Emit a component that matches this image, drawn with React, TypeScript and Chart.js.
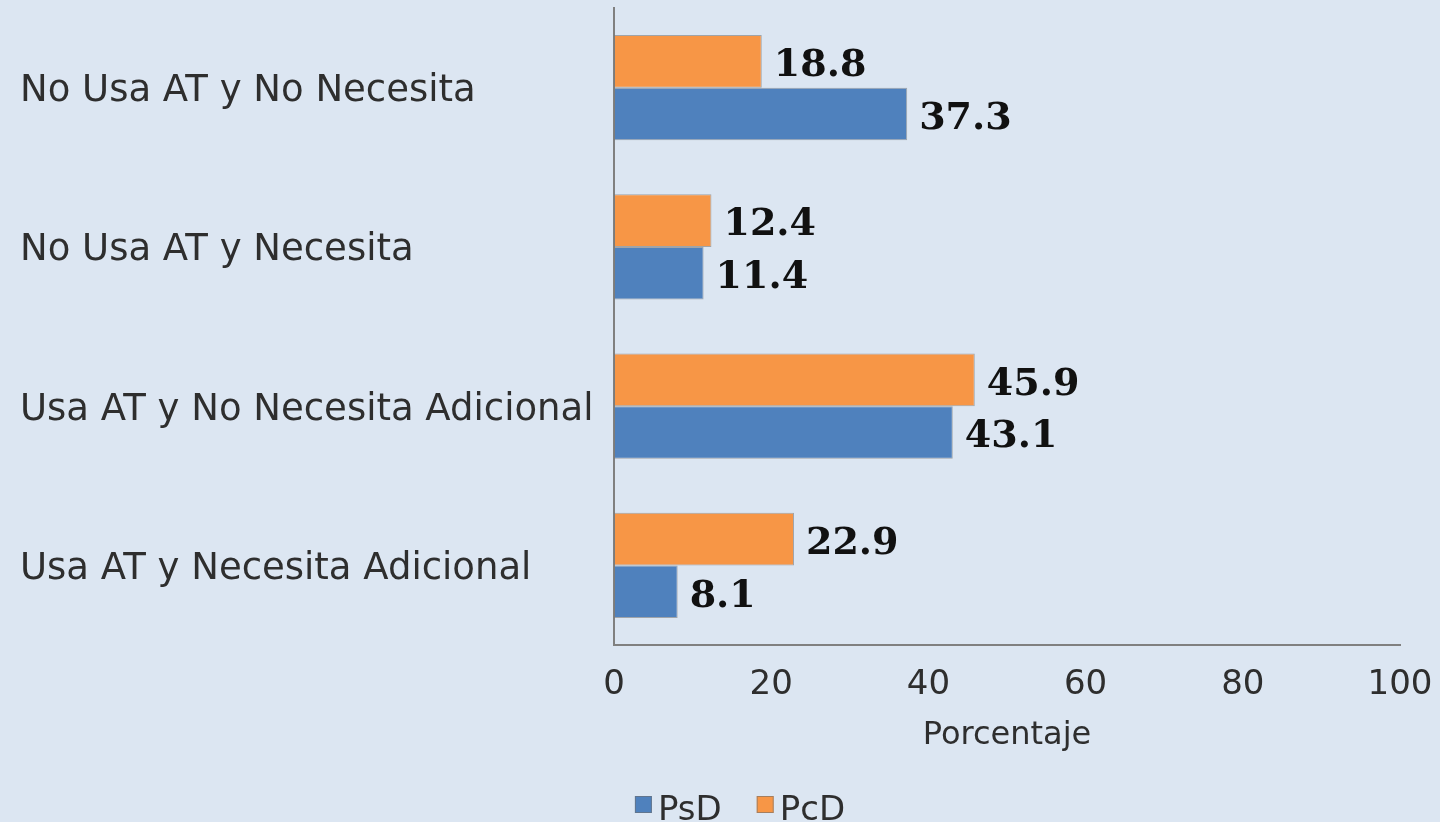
import React, { useEffect, useRef } from "react";
import { Chart, registerables } from "chart.js";

Chart.register(...registerables);

const categories = [
  "No Usa AT y No Necesita",
  "No Usa AT y Necesita",
  "Usa AT y No Necesita Adicional",
  "Usa AT y Necesita Adicional",
];
const psdValues = [37.3, 11.4, 43.1, 8.1];
const pcdValues = [18.8, 12.4, 45.9, 22.9];
const xTicks = [0, 20, 40, 60, 80, 100];
const seriesNames = ["PsD", "PcD"];

const BG = "#dce6f2";
const BLUE = "#4f81bd";
const ORANGE = "#f79646";
const TEXT = "#2e2e2e";

const dataLabelPlugin = {
  id: "dataLabels",
  afterDatasetsDraw(chart: any) {
    const ctx = chart.ctx;
    ctx.save();
    ctx.font = 'bold 38px "DejaVu Serif"';
    ctx.fillStyle = "#111111";
    ctx.textAlign = "left";
    ctx.textBaseline = "middle";
    chart.data.datasets.forEach((ds: any, i: number) => {
      const meta = chart.getDatasetMeta(i);
      meta.data.forEach((el: any, j: number) => {
        const v = ds.data[j];
        ctx.fillText(v.toFixed(1), el.x + 12, el.y + 5);
      });
    });
    ctx.restore();
  },
};

const legendPlugin = {
  id: "customLegend",
  afterDraw(chart: any) {
    const ctx = chart.ctx;
    ctx.save();
    ctx.font = '34px "DejaVu Sans"';
    const items = [...chart.data.datasets].reverse();
    const box = 17;
    const gap = 6;
    const itemGap = 35;
    const widths = items.map((d: any) => box + gap + ctx.measureText(d.label).width);
    const total = widths.reduce((a: number, b: number) => a + b, 0) + itemGap * (items.length - 1);
    let x = chart.width / 2 + 20 - total / 2;
    const baseY = 820;
    items.forEach((d: any, i: number) => {
      ctx.fillStyle = d.backgroundColor;
      ctx.fillRect(x, 796, box, box);
      ctx.strokeStyle = "rgba(110,110,110,0.6)";
      ctx.lineWidth = 1;
      ctx.strokeRect(x + 0.5, 796.5, box - 1, box - 1);
      ctx.fillStyle = TEXT;
      ctx.textBaseline = "alphabetic";
      ctx.textAlign = "left";
      ctx.fillText(d.label, x + box + gap, baseY);
      x += widths[i] + itemGap;
    });
    ctx.restore();
  },
};

export default function App() {
  const ref = useRef<HTMLCanvasElement>(null);

  useEffect(() => {
    document.body.style.margin = "0";
    document.body.style.background = BG;
    const chart = new Chart(ref.current as HTMLCanvasElement, {
      type: "bar",
      data: {
        labels: categories,
        datasets: [
          {
            label: seriesNames[1],
            data: pcdValues,
            backgroundColor: ORANGE,
            borderColor: "rgba(120,120,120,0.6)",
            borderWidth: 1,
            borderSkipped: false,
          },
          {
            label: seriesNames[0],
            data: psdValues,
            backgroundColor: BLUE,
            borderColor: "rgba(120,120,120,0.6)",
            borderWidth: 1,
            borderSkipped: false,
          },
        ],
      },
      options: {
        indexAxis: "y",
        animation: false,
        responsive: false,
        layout: { padding: { left: 20, right: 40, top: 8, bottom: 60 } },
        datasets: { bar: { categoryPercentage: 0.66, barPercentage: 1 } },
        plugins: {
          legend: { display: false },
          tooltip: { enabled: false },
        },
        scales: {
          x: {
            min: 0,
            max: 100,
            afterBuildTicks: (scale: any) => {
              scale.ticks = xTicks.map((v) => ({ value: v }));
            },
            afterFit: (scale: any) => {
              scale.height = 117;
              scale.paddingRight = 0;
              scale.paddingLeft = 0;
            },
            grid: { display: false, drawTicks: true, tickLength: 8 },
            border: { display: true, color: "#808080", width: 2 },
            ticks: {
              font: { family: "DejaVu Sans", size: 34 },
              color: TEXT,
              padding: 12,
              maxRotation: 0,
            },
            title: {
              display: true,
              text: "Porcentaje",
              font: { family: "DejaVu Sans", size: 32 },
              color: TEXT,
              padding: { top: 0, bottom: 7 },
            },
          },
          y: {
            afterFit: (scale: any) => {
              scale.width = 594;
              scale.paddingTop = 0;
              scale.paddingBottom = 0;
            },
            grid: { display: false },
            border: { display: true, color: "#808080", width: 2 },
            ticks: {
              font: { family: "DejaVu Sans", size: 37 },
              color: TEXT,
              crossAlign: "far",
              labelOffset: 4,
            },
          },
        },
      },
      plugins: [dataLabelPlugin, legendPlugin],
    } as any);
    return () => chart.destroy();
  }, []);

  return (
    <div style={{ width: 1440, height: 822, background: BG }}>
      <canvas ref={ref} width={1440} height={822} style={{ display: "block" }} />
    </div>
  );
}
